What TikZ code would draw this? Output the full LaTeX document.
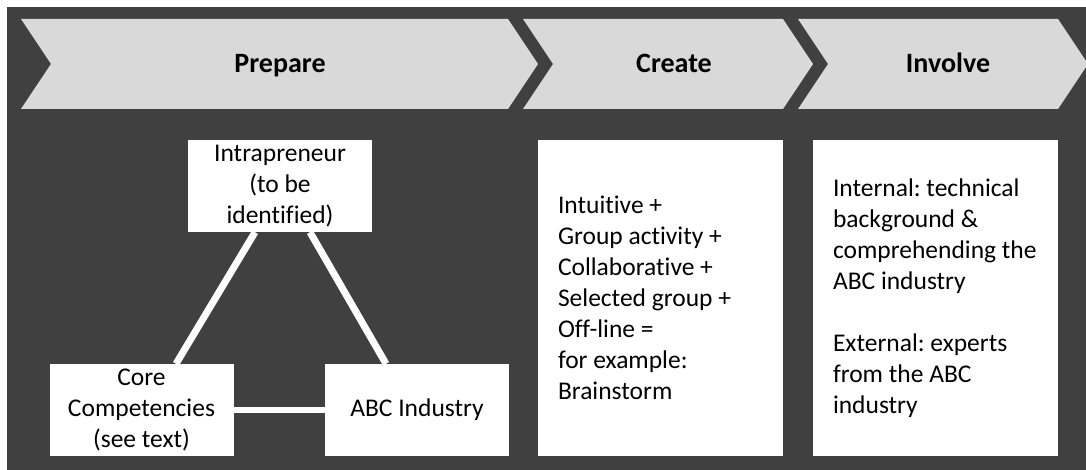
\documentclass[tikz,border=0pt]{standalone}
\usepackage{fontspec}
\setmainfont{Carlito}[Ligatures=NoCommon]
\usetikzlibrary{calc}
\definecolor{bgdark}{HTML}{404040}
\definecolor{chev}{HTML}{D9D9D9}
\frenchspacing
\begin{document}
\begin{tikzpicture}[x=1pt,y=-1pt,
  chevlabel/.style={font=\fontsize{28}{32}\selectfont\bfseries, text=black, anchor=base, inner sep=0pt},
  whitebox/.style={fill=white, draw=none, inner sep=0pt, minimum width=184pt, minimum height=92pt, align=center, font=\fontsize{25.5}{31}\selectfont},
  tallbox/.style={fill=white, draw=none, inner sep=0pt, minimum width=245pt, minimum height=316pt},
  bodytext/.style={align=left, inner sep=0pt, font=\fontsize{25.5}{31}\selectfont},
  link/.style={draw=white, line width=7pt},
  hlink/.style={draw=white, line width=5.5pt}
]
\useasboundingbox (0,0) rectangle (1086,470);
\fill[bgdark] (7,7) rectangle (1086,470);
% chevrons
\fill[chev] (21,19) -- (508,19) -- (538,64) -- (508,109) -- (21,109) -- (51,64) -- cycle;
\fill[chev] (523,19) -- (783,19) -- (813,64) -- (783,109) -- (523,109) -- (553,64) -- cycle;
\fill[chev] (798,19) -- (1058,19) -- (1086,61) -- (1086,67) -- (1058,109) -- (798,109) -- (828,64) -- cycle;
\node[chevlabel] (prep) at (280,73) {Prepare};
\node[chevlabel] (crea) at (674,73) {Create};
\node[chevlabel] (invo) at (948,73) {Involve};
% triangle boxes
\node[whitebox] (intra) at (280,186) {Intrapreneur\\(to be\\identified)};
\node[whitebox] (core) at (141.5,410) {Core\\Competencies\\(see text)};
\node[whitebox] (abc) at (417,410) {ABC Industry};
\draw[link] ([xshift=-25pt]intra.south) -- ([xshift=34.5pt]core.north);
\draw[link] ([xshift=30pt]intra.south) -- ([xshift=-31pt]abc.north);
\draw[hlink] (core.east) -- (abc.west);
% tall boxes
\node[tallbox] (cbox) at (660.5,298) {};
\node[tallbox] (ibox) at (935.5,298) {};
\node[bodytext, anchor=west] (ctext) at ([xshift=20pt]cbox.west) {Intuitive +\\Group activity +\\Collaborative +\\Selected group +\\Off-line =\\for example:\\Brainstorm};
\node[bodytext, anchor=west] (itext) at ([xshift=20pt]ibox.west) {Internal: technical\\background \&\\comprehending the\\ABC industry\\[31pt]External: experts\\from the ABC\\industry};
\end{tikzpicture}
\end{document}
